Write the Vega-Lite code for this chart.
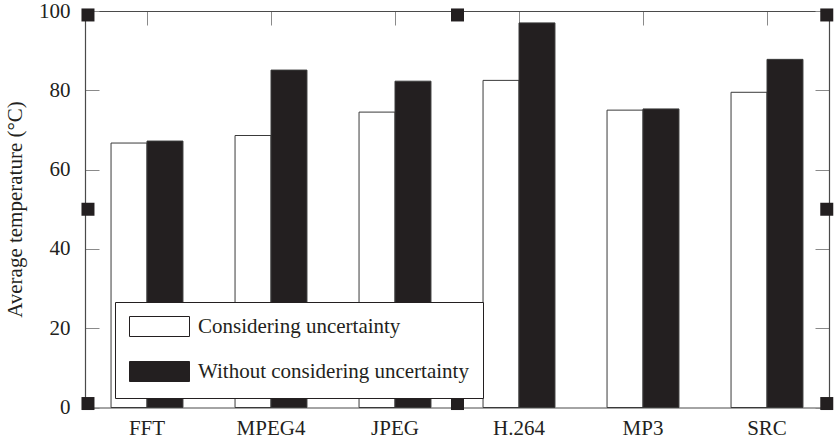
{
  "$schema": "https://vega.github.io/schema/vega-lite/v6.json",
  "width": 744,
  "height": 396.5,
  "autosize": {"type": "none"},
  "padding": {"left": 85, "top": 11, "right": 7, "bottom": 33.5},
  "background": "white",
  "config": {
    "view": {"stroke": null},
    "font": "Liberation Serif",
    "axis": {
      "grid": false,
      "zindex": 0,
      "domainColor": "#4a4a4a",
      "domainWidth": 1.2,
      "tickColor": "#8a8a8a",
      "tickWidth": 1,
      "labelFont": "Liberation Serif",
      "labelFontSize": 21,
      "labelColor": "#231f20",
      "titleFont": "Liberation Serif",
      "titleFontSize": 21,
      "titleFontWeight": "normal",
      "titleColor": "#231f20"
    }
  },
  "datasets": {
    "bars": [
      {"cat": "FFT", "series": "Considering uncertainty", "value": 66.7},
      {"cat": "FFT", "series": "Without considering uncertainty", "value": 67.2},
      {"cat": "MPEG4", "series": "Considering uncertainty", "value": 68.6},
      {"cat": "MPEG4", "series": "Without considering uncertainty", "value": 85.1},
      {"cat": "JPEG", "series": "Considering uncertainty", "value": 74.5},
      {"cat": "JPEG", "series": "Without considering uncertainty", "value": 82.3},
      {"cat": "H.264", "series": "Considering uncertainty", "value": 82.5},
      {"cat": "H.264", "series": "Without considering uncertainty", "value": 97.0},
      {"cat": "MP3", "series": "Considering uncertainty", "value": 75.0},
      {"cat": "MP3", "series": "Without considering uncertainty", "value": 75.3},
      {"cat": "SRC", "series": "Considering uncertainty", "value": 79.5},
      {"cat": "SRC", "series": "Without considering uncertainty", "value": 87.8}
    ],
    "handles": [
      {"hx": 0.004, "hy": 99},
      {"hx": 0.5007, "hy": 99},
      {"hx": 0.997, "hy": 99},
      {"hx": 0.004, "hy": 50},
      {"hx": 0.997, "hy": 50},
      {"hx": 0.004, "hy": 1},
      {"hx": 0.5007, "hy": 1},
      {"hx": 0.997, "hy": 1}
    ]
  },
  "layer": [
    {
      "data": {"name": "bars"},
      "mark": {"type": "bar", "stroke": "#3a3a3a", "strokeWidth": 1, "opacity": 1},
      "encoding": {
        "x": {
          "field": "cat",
          "type": "nominal",
          "sort": ["FFT", "MPEG4", "JPEG", "H.264", "MP3", "SRC"],
          "scale": {"paddingInner": 0.42, "paddingOuter": 0.21},
          "axis": {"orient": "bottom", "title": null, "ticks": false, "labelAngle": 0, "labelPadding": 10}
        },
        "xOffset": {
          "field": "series",
          "type": "nominal",
          "sort": ["Considering uncertainty", "Without considering uncertainty"],
          "scale": {"paddingInner": 0, "paddingOuter": 0}
        },
        "y": {
          "field": "value",
          "type": "quantitative",
          "scale": {"domain": [0, 100], "nice": false, "zero": true},
          "axis": {
            "orient": "left",
            "title": "Average temperature (°C)",
            "values": [0, 20, 40, 60, 80, 100],
            "tickSize": -14,
            "labelPadding": 29,
            "titleAngle": 270,
            "titleX": -70,
            "titleY": 198,
            "titleAlign": "center",
            "titleBaseline": "middle"
          }
        },
        "color": {
          "field": "series",
          "type": "nominal",
          "scale": {
            "domain": ["Considering uncertainty", "Without considering uncertainty"],
            "range": ["#ffffff", "#231f20"]
          },
          "legend": {
            "title": null,
            "orient": "none",
            "legendX": 30,
            "legendY": 291,
            "symbolType": "M-1,-1H5V1H-1Z",
            "symbolSize": 400,
            "symbolStrokeColor": "#231f20",
            "symbolStrokeWidth": 1,
            "symbolOpacity": 1,
            "labelFont": "Liberation Serif",
            "labelFontSize": 21,
            "labelColor": "#231f20",
            "labelOffset": 48,
            "labelLimit": 400,
            "rowPadding": 20,
            "padding": 14,
            "strokeColor": "#231f20",
            "fillColor": "white"
          }
        }
      }
    },
    {
      "data": {"name": "bars"},
      "mark": {"type": "point", "opacity": 0},
      "encoding": {
        "x": {
          "field": "cat",
          "type": "nominal",
          "sort": ["FFT", "MPEG4", "JPEG", "H.264", "MP3", "SRC"],
          "scale": {"paddingInner": 0.42, "paddingOuter": 0.21},
          "axis": {"orient": "top", "title": null, "labels": false, "tickSize": -14}
        },
        "y": {
          "field": "value",
          "type": "quantitative",
          "axis": {"orient": "right", "title": null, "labels": false, "values": [0, 20, 40, 60, 80, 100], "tickSize": -14}
        }
      }
    },
    {
      "data": {"name": "handles"},
      "mark": {"type": "point", "shape": "square", "filled": true, "size": 169, "color": "#231f20", "opacity": 1},
      "encoding": {
        "x": {"field": "hx", "type": "quantitative", "scale": {"domain": [0, 1], "nice": false, "zero": false}, "axis": null},
        "y": {"field": "hy", "type": "quantitative", "axis": null}
      }
    }
  ],
  "resolve": {
    "scale": {"x": "independent"},
    "axis": {"x": "independent", "y": "independent"}
  }
}
